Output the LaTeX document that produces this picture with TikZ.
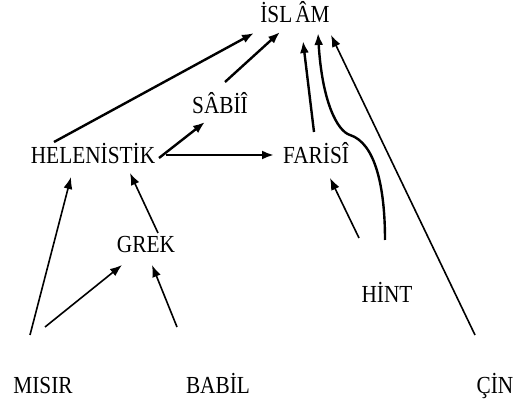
\documentclass[tikz,border=0pt]{standalone}
\usepackage{fontspec}
\setmainfont{Liberation Serif}[FakeStretch=0.87]
\usetikzlibrary{arrows.meta}
\tikzset{
  lbl/.style={anchor=base, inner sep=0pt, font=\fontsize{24.5}{26}\selectfont, text=black},
  thickarr/.style={line width=2.4pt, -{Latex[length=12pt,width=9pt]}},
  thinarr/.style={line width=1.6pt, -{Latex[length=12pt,width=9pt]}},
}
\begin{document}
\begin{tikzpicture}[x=1pt,y=1pt]
\useasboundingbox (0,0) rectangle (513,401);
\node[lbl] (islam) at (295,378) {İSL\kern3pt ÂM};
\node[lbl] (sabii) at (220,287) {SÂBİÎ};
\node[lbl] (helen) at (93,237) {HELENİSTİK};
\node[lbl] (farisi) at (316,237) {FARİSÎ};
\node[lbl] (grek) at (146,148) {GREK};
\node[lbl] (hint) at (387,98) {HİNT};
\node[lbl] (misir) at (43,8) {MISIR};
\node[lbl] (babil) at (218,8) {BABİL};
\node[lbl] (cin) at (495,8) {ÇİN};

\draw[thickarr] ([shift={(-39,22)}]helen.base) -- ([shift={(-41,-10)}]islam.base);
\draw[thickarr] ([shift={(5,32)}]sabii.base) -- ([shift={(-15,-9)}]islam.base);
\draw[thickarr] ([shift={(66,6)}]helen.base) -- ([shift={(-15,-8)}]sabii.base);
\draw[thickarr] ([shift={(73,9)}]helen.base) -- ([shift={(-42,9)}]farisi.base);
\draw[thickarr] ([shift={(-2,32)}]farisi.base) -- ([shift={(8,-18)}]islam.base);
\draw[thickarr] ([shift={(-2,63)}]hint.base) .. controls (385,215) and (375,258) .. (350,266)
   .. controls (337,270) and (322,300) .. ([shift={(23,-10)}]islam.base);
\draw[thinarr] ([shift={(-20,58)}]cin.base) -- ([shift={(36,-12)}]islam.base);
\draw[thinarr] ([shift={(-28,65)}]hint.base) -- ([shift={(14,-14)}]farisi.base);
\draw[thinarr] ([shift={(-13,58)}]misir.base) -- ([shift={(-22,-13)}]helen.base);
\draw[thinarr] ([shift={(2,66)}]misir.base) -- ([shift={(-24,-12)}]grek.base);
\draw[thinarr] ([shift={(-41,66)}]babil.base) -- ([shift={(6,-12)}]grek.base);
\draw[thinarr] ([shift={(12,20)}]grek.base) -- ([shift={(37,-9)}]helen.base);
\end{tikzpicture}
\end{document}
